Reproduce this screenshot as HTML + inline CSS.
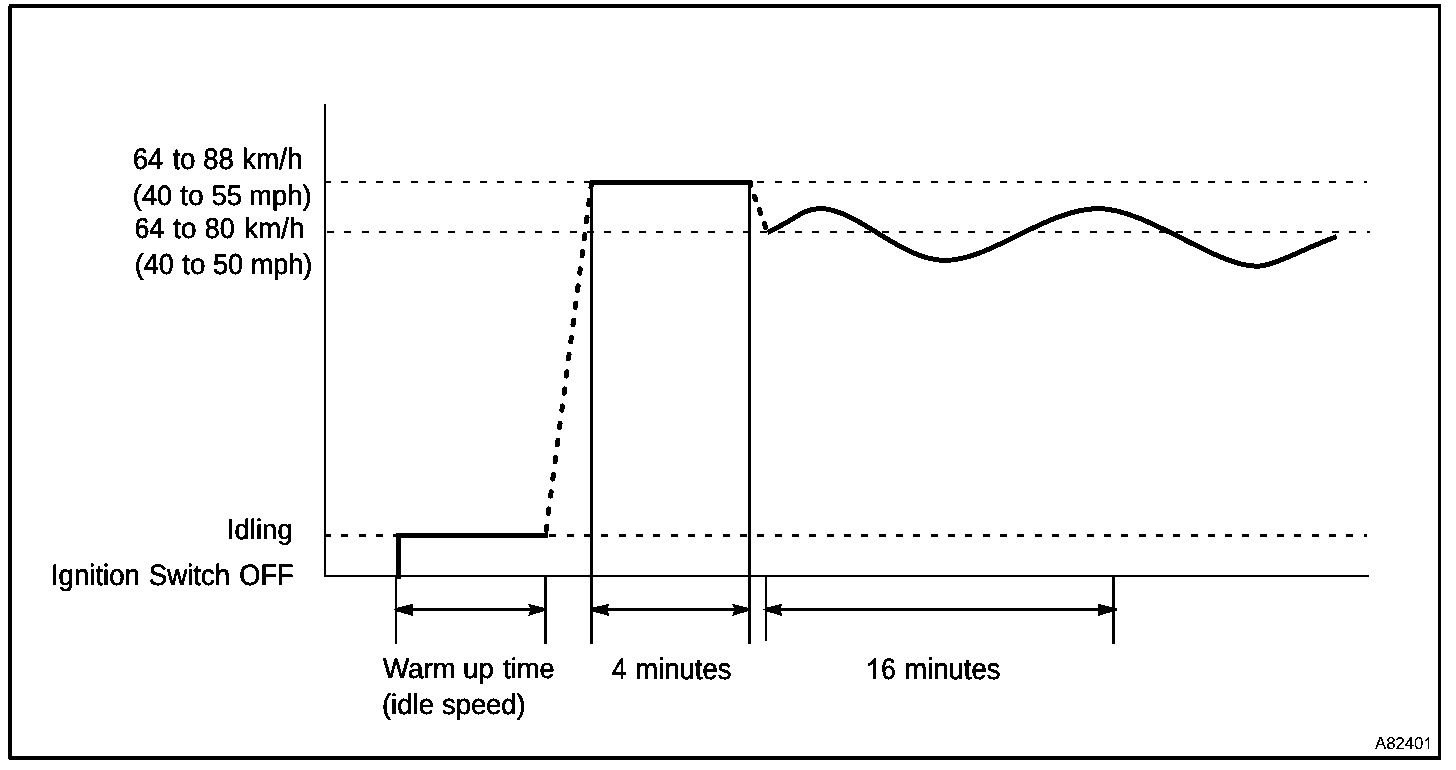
<!DOCTYPE html>
<html>
<head>
<meta charset="utf-8">
<title>Drive pattern</title>
<style>
html,body{margin:0;padding:0;background:#fff;}
body{width:1456px;height:770px;overflow:hidden;position:relative;font-family:"Liberation Sans",sans-serif;}
svg{position:absolute;left:0;top:0;display:block;}
text{font-family:"Liberation Sans",sans-serif;fill:#000;stroke:#000;stroke-width:0.56px;stroke-linejoin:round;text-rendering:geometricPrecision;}
.t{font-size:28px;}
</style>
</head>
<body>
<svg width="1456" height="770" viewBox="0 0 1456 770">
<defs><filter id="thr" x="0" y="0" width="1456" height="770" filterUnits="userSpaceOnUse" color-interpolation-filters="sRGB"><feComponentTransfer><feFuncA type="discrete" tableValues="0 1"/></feComponentTransfer></filter></defs>
<rect x="0" y="0" width="1456" height="770" fill="#fff"/>
<!-- outer frame -->
<g fill="#000" shape-rendering="crispEdges">
<rect x="9" y="4" width="1432" height="4"/>
<rect x="8" y="6" width="4" height="753"/>
<rect x="9" y="756" width="1432" height="4"/>
<rect x="1438" y="4" width="3" height="756"/>
</g>
<!-- axes -->
<g fill="#000" shape-rendering="crispEdges">
<rect x="324" y="104" width="2" height="473"/>
<rect x="324" y="575" width="1045" height="2"/>
</g>
<!-- dashed reference lines -->
<g stroke="#000" fill="none" shape-rendering="crispEdges">
<line x1="324" y1="182" x2="1367" y2="182" stroke-width="2" stroke-dasharray="7 10.33"/>
<line x1="327" y1="232" x2="1370" y2="232" stroke-width="2" stroke-dasharray="7 10.33"/>
<line x1="324" y1="535.5" x2="1367" y2="535.5" stroke-width="3" stroke-dasharray="7 10.33"/>
</g>
<!-- extension lines -->
<g fill="#000" shape-rendering="crispEdges">
<rect x="395" y="577" width="2" height="67"/>
<rect x="544" y="577" width="3" height="67"/>
<rect x="590" y="182" width="3" height="462"/>
<rect x="748" y="182" width="3" height="462"/>
<rect x="765" y="577" width="2" height="64"/>
<rect x="1112" y="577" width="3" height="67"/>
</g>
<!-- thick pattern lines -->
<g stroke="#000" fill="none" stroke-width="5" shape-rendering="crispEdges">
<path d="M398.5 579 L398.5 535.5 L547.5 535.5" stroke-linejoin="miter"/>
<path d="M589.5 182.5 L752 182.5"/>
<path d="M545.9 532 L591.4 184" stroke-linecap="round" stroke-dasharray="4.5 12.8" stroke-dashoffset="-1.5"/>
<path d="M767.5 232.3 C795.5 220 801.8 208.6 820.2 208.6 C857.7 208.6 900.2 260.4 945.2 260.4 C991.3 260.4 1046.5 208.6 1098.7 208.6 C1146 208.6 1215.5 266.2 1256.5 266.2 C1274.6 266.2 1300.8 249.6 1336.8 236.6" stroke-linejoin="round"/>
</g>
<g stroke="#000" fill="none" stroke-width="5.3" stroke-linecap="round" shape-rendering="crispEdges">
<path d="M750.6 183.5 L750.8 185.2"/>
<path d="M754.46 196.4 L755.64 199.6"/>
<path d="M759.41 209.9 L760.59 213.1"/>
<path d="M764.41 223.9 L765.59 227.1"/>
</g>
<!-- dimension arrows -->
<g stroke="#000" stroke-width="3" shape-rendering="crispEdges">
<line x1="405" y1="609.5" x2="535" y2="609.5"/>
<line x1="600" y1="609.5" x2="740" y2="609.5"/>
<line x1="775" y1="609.5" x2="1117" y2="609.5"/>
</g>
<g fill="#000" shape-rendering="crispEdges">
<path d="M393.8 609.5 L395.6 608 L413 603.8 L413 616 L395.6 611 Z"/>
<path d="M545 608 L528 603.8 L530.8 609.5 L528 616 L545 611 Z"/>
<path d="M591 608 L609 603.8 L607.8 609.5 L609 616 L591 611 Z"/>
<path d="M749 608 L732 603.8 L734.8 609.5 L732 616 L749 611 Z"/>
<path d="M763.4 609.5 L765.2 608 L782 603.8 L780.8 609.5 L782 616 L765.2 611 Z"/>
<path d="M1115 608 L1098 603.8 L1098 616 L1115 611 Z"/>
</g>
<!-- labels -->
<g class="t" filter="url(#thr)">
<text transform="translate(132.90 169.10) scale(0.9640 1.061)">64</text>
<text transform="translate(172.67 169.10) scale(0.9751 1.061)">to</text>
<text transform="translate(203.27 169.10) scale(0.9780 1.061)">88</text>
<text transform="translate(242.12 169.10) scale(0.9925 1.061)">km/h</text>
<text transform="translate(132.84 204.80) scale(0.9700 1.004)">(40</text>
<text transform="translate(180.27 204.80) scale(1.0054 1.004)">to</text>
<text transform="translate(211.39 204.80) scale(0.9838 1.004)">55</text>
<text transform="translate(249.12 204.80) scale(0.9778 1.004)">mph)</text>
<text transform="translate(134.40 238.20) scale(0.9574 1.025)">64</text>
<text transform="translate(173.27 238.20) scale(0.9924 1.025)">to</text>
<text transform="translate(204.78 238.20) scale(0.9584 1.025)">80</text>
<text transform="translate(244.01 238.20) scale(0.9960 1.025)">km/h</text>
<text transform="translate(134.75 274.30) scale(0.9598 1.03)">(40</text>
<text transform="translate(182.17 274.30) scale(0.9924 1.03)">to</text>
<text transform="translate(213.00 274.30) scale(0.9710 1.03)">50</text>
<text transform="translate(250.63 274.30) scale(0.9679 1.03)">mph)</text>
<text transform="translate(226.87 538.90) scale(0.9840 0.999)">Idling</text>
<text transform="translate(50.96 584.70) scale(0.9850 1.051)">Ignition</text>
<text transform="translate(148.81 584.70) scale(0.9861 1.051)">Switch</text>
<text transform="translate(239.21 584.70) scale(0.9741 1.051)">OFF</text>
<text transform="translate(382.99 677.90) scale(0.9889 0.999)">Warm</text>
<text transform="translate(463.10 677.90) scale(0.9832 0.999)">up</text>
<text transform="translate(503.16 677.90) scale(0.9735 0.999)">time</text>
<text transform="translate(381.92 714.40) scale(0.9839 1.009)">(idle</text>
<text transform="translate(442.07 714.40) scale(0.9756 1.009)">speed)</text>
<text transform="translate(612.11 678.90) scale(0.9128 1.056)">4</text>
<text transform="translate(635.21 678.90) scale(0.9829 1.056)">minutes</text>
<text transform="translate(881.18 678.90) scale(0.9333 1.056)">6</text>
<text transform="translate(904.21 678.90) scale(0.9829 1.056)">minutes</text>
<path d="M583 0 V1141 C480 1040 350 960 223 924 V1098 C400 1180 560 1320 647 1466 H763 V0 Z" transform="translate(865.35 678.9) scale(0.013672 -0.014082)" stroke="#000" stroke-width="41.0" stroke-linejoin="round"/>
</g>
<g filter="url(#thr)"><text transform="translate(1374.97 749.00) scale(1.0460 1.08)" font-size="16" style="stroke-width:0.15px">A8240</text><path d="M583 0 V1141 C480 1040 350 960 223 924 V1098 C400 1180 560 1320 647 1466 H763 V0 Z" transform="translate(1423.2 749) scale(0.007812 -0.008086)" stroke="#000" stroke-width="19.2" stroke-linejoin="round"/></g>
</svg>
</body>
</html>
